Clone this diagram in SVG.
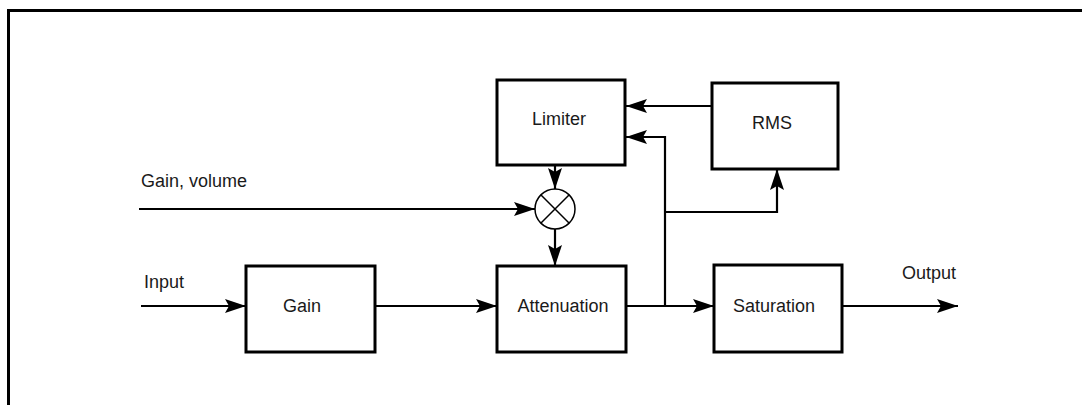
<svg xmlns="http://www.w3.org/2000/svg" width="1082" height="405" viewBox="0 0 1082 405">
<style>
.box{fill:#fff;stroke:#000;stroke-width:3}
.ln{fill:none;stroke:#000;stroke-width:2.2}
.t{font-family:"Liberation Sans",Arial,sans-serif;font-size:18px;fill:#1a1a1a}
</style>
<defs>
<marker id="ah" markerUnits="userSpaceOnUse" markerWidth="24" markerHeight="18" viewBox="-22 -9 24 18" refX="0" refY="0" orient="auto">
<path d="M0,0 L-21,-7 L-17,0 L-21,7 Z" fill="#000"/>
</marker>
</defs>
<rect width="1082" height="405" fill="#fff"/>
<path d="M8.5,405 V10.5 H1082" fill="none" stroke="#000" stroke-width="3"/>
<g id="connectors">
<path class="ln" d="M141,306 H246" marker-end="url(#ah)"/>
<path class="ln" d="M375,306 H497" marker-end="url(#ah)"/>
<path class="ln" d="M139,209 H535" marker-end="url(#ah)"/>
<path class="ln" d="M555,165 V189" marker-end="url(#ah)"/>
<path class="ln" d="M555,229 V266" marker-end="url(#ah)"/>
<path class="ln" d="M626,306 H714" marker-end="url(#ah)"/>
<path class="ln" d="M665,306 V137 H626" marker-end="url(#ah)"/>
<path class="ln" d="M665,212 H777 V169" marker-end="url(#ah)"/>
<path class="ln" d="M712,106 H626" marker-end="url(#ah)"/>
<path class="ln" d="M842,306 H958" marker-end="url(#ah)"/>
</g>
<g id="limiter"><rect class="box" x="497" y="80" width="128" height="85"/><text class="t" x="559" y="125" text-anchor="middle">Limiter</text></g>
<g id="rms"><rect class="box" x="712" y="83" width="126" height="86"/><text class="t" x="772" y="129" text-anchor="middle">RMS</text></g>
<g id="gain"><rect class="box" x="246" y="266" width="129" height="86"/><text class="t" x="302" y="312" text-anchor="middle">Gain</text></g>
<g id="attenuation"><rect class="box" x="497" y="266" width="129" height="86"/><text class="t" x="563" y="312" text-anchor="middle">Attenuation</text></g>
<g id="saturation"><rect class="box" x="714" y="265" width="128" height="87"/><text class="t" x="774" y="312" text-anchor="middle">Saturation</text></g>
<g id="multiplier"><circle cx="555" cy="209" r="20" fill="#fff" stroke="#000" stroke-width="1.5"/><path d="M541,195 L569,223 M569,195 L541,223" stroke="#000" stroke-width="1.5"/></g>
<g id="labels">
<text class="t" x="141" y="187">Gain, volume</text>
<text class="t" x="144" y="288">Input</text>
<text class="t" x="902" y="279">Output</text>
</g>
</svg>
